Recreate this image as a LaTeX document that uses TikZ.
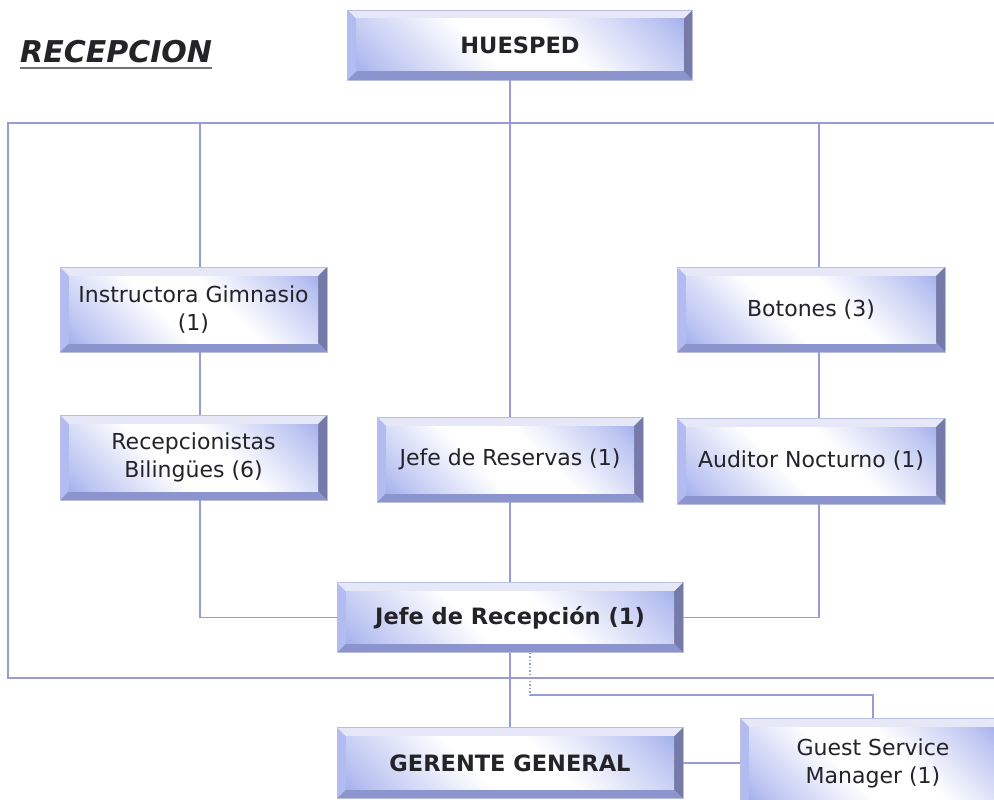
\documentclass[tikz,border=0pt]{standalone}
\usepackage{fontspec}
\setmainfont{DejaVu Sans}
\usetikzlibrary{calc}
\definecolor{ln}{RGB}{150,156,216}
\definecolor{fb}{RGB}{105,125,225}
\definecolor{bvT}{RGB}{230,232,247}
\definecolor{bvL}{RGB}{178,188,240}
\definecolor{bvB}{RGB}{140,148,205}
\definecolor{bvR}{RGB}{118,122,168}
\definecolor{txt}{RGB}{35,35,40}
\pgfdeclarehorizontalshading{bevelface}{100bp}{color(0bp)=(fb); color(20bp)=(fb!45!white); color(42bp)=(white); color(58bp)=(white); color(80bp)=(fb!45!white); color(100bp)=(fb)}
\tikzset{
  conn/.style={draw=ln, line width=1.5pt},
  bevelbox/.style={rectangle, inner sep=0pt, align=center, text=txt,
    font=\fontsize{22}{28}\selectfont, draw=bvB!60!white, line width=0.6pt,
    path picture={
      \fill[bvT] (path picture bounding box.north west) -- (path picture bounding box.north east)
        -- ([xshift=-9pt,yshift=-9pt]path picture bounding box.north east)
        -- ([xshift=9pt,yshift=-9pt]path picture bounding box.north west) -- cycle;
      \fill[bvL] (path picture bounding box.north west) -- (path picture bounding box.south west)
        -- ([xshift=9pt,yshift=9pt]path picture bounding box.south west)
        -- ([xshift=9pt,yshift=-9pt]path picture bounding box.north west) -- cycle;
      \fill[bvB] (path picture bounding box.south west) -- (path picture bounding box.south east)
        -- ([xshift=-9pt,yshift=9pt]path picture bounding box.south east)
        -- ([xshift=9pt,yshift=9pt]path picture bounding box.south west) -- cycle;
      \fill[bvR] (path picture bounding box.north east) -- (path picture bounding box.south east)
        -- ([xshift=-9pt,yshift=9pt]path picture bounding box.south east)
        -- ([xshift=-9pt,yshift=-9pt]path picture bounding box.north east) -- cycle;
      \shade[shading=bevelface, shading angle=45]
        ([xshift=9pt,yshift=9pt]path picture bounding box.south west)
        rectangle ([xshift=-9pt,yshift=-9pt]path picture bounding box.north east);
    }},
  boldbox/.style={bevelbox, font=\fontsize{22.5}{28}\selectfont\bfseries},
}
\begin{document}
\begin{tikzpicture}[x=1pt,y=-1pt]
\fill[white] (0,0) rectangle (994,800);
\useasboundingbox (0,0) rectangle (994,800);

% title
\node[inner sep=0pt, anchor=base west, text=txt, font=\fontsize{30}{36}\selectfont\bfseries\itshape] (title) at (20,63) {RECEPCION};
\draw[line width=2.6pt, black!55] ([yshift=-5pt]title.base west) -- ([yshift=-5pt]title.base east);

% boxes
\node[boldbox, minimum width=345pt, minimum height=70pt] (hues) at (520,45) {HUESPED};
\node[bevelbox, minimum width=267pt, minimum height=85pt] (inst) at (193.5,309.5) {Instructora Gimnasio\\(1)};
\node[bevelbox, minimum width=267pt, minimum height=85pt] (recb) at (193.5,457.5) {Recepcionistas\\Bilingües (6)};
\node[bevelbox, minimum width=266pt, minimum height=85pt] (res) at (510,459.5) {Jefe de Reservas (1)};
\node[bevelbox, minimum width=268pt, minimum height=85pt] (bot) at (811,309.5) {Botones (3)};
\node[bevelbox, minimum width=268pt, minimum height=86pt] (aud) at (811,461) {Auditor Nocturno (1)};
\node[boldbox, minimum width=346pt, minimum height=70pt] (jrec) at (510,617.5) {Jefe de Recepción (1)};
\node[boldbox, minimum width=346pt, minimum height=71pt] (gg) at (510,763) {GERENTE GENERAL};
\node[bevelbox, minimum width=266pt, minimum height=90pt] (gsm) at (873,763) {Guest Service\\Manager (1)};

% frame
\coordinate (ftr) at (1010,123);
\coordinate (ftl) at (8,123);
\coordinate (fbl) at (8,678);
\coordinate (fbr) at (1010,678);
\draw[conn] (ftr) -- (ftl) -- (fbl) -- (fbr);

% left column
\coordinate (c1) at (200,123);
\draw[conn] (c1) -- (c1 |- inst.north);
\draw[conn] (c1 |- inst.south) -- (c1 |- recb.north);
\draw[conn] (c1 |- recb.south) -- (c1 |- jrec.west) -- (jrec.west);

% right column
\coordinate (c3) at (819,123);
\draw[conn] (c3) -- (c3 |- bot.north);
\draw[conn] (c3 |- bot.south) -- (c3 |- aud.north);
\draw[conn] (c3 |- aud.south) -- (c3 |- jrec.east) -- (jrec.east);

% trunk
\draw[conn] (hues.south -| res.north) -- (res.north);
\draw[conn] (res.south) -- (jrec.north);
\draw[conn] (jrec.south) -- (gg.north);

% guest service manager
\coordinate (d1) at (530,695);
\draw[conn, dotted, line width=1.2pt] (jrec.south -| d1) -- (d1);
\draw[conn] (d1) -- (d1 -| gsm.north) -- (gsm.north);
\draw[conn] (gg.east) -- (gsm.west);
\end{tikzpicture}
\end{document}
